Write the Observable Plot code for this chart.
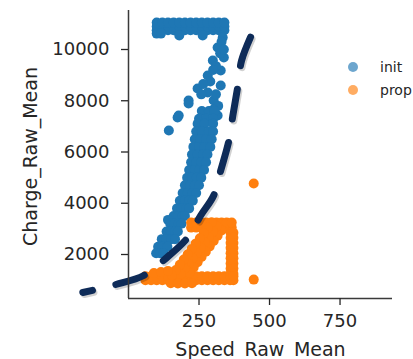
<!DOCTYPE html>
<html><head><meta charset="utf-8">
<script src="https://cdn.jsdelivr.net/npm/d3@7"></script>
<script src="https://cdn.jsdelivr.net/npm/@observablehq/plot@0.6"></script>
<style>
body{margin:0;background:#fff;}
#wrap{position:relative;width:413px;height:359px;overflow:hidden;background:#fff;}
#legend{position:absolute;left:348px;top:55px;font-family:"DejaVu Sans";font-size:14px;color:#262626;}
#legend .row{display:flex;align-items:center;height:23px;}
#legend .sw{width:10px;height:10px;border-radius:50%;margin-right:22px;opacity:0.65;}
</style></head><body><div id="wrap"></div>
<script>
const categories = ["init", "prop"];
const colors = ["#1f77b4", "#ff7f0e"];
const xTicks = [250, 500, 750];
const yTicks = [2000, 4000, 6000, 8000, 10000];
const xLabel = "Speed_Raw_Mean";
const yLabel = "Charge_Raw_Mean";

// init: [Speed_Raw_Mean, Charge_Raw_Mean]
const initPoints = [
  [100,10750],[120,10750],[140,10750],[160,10750],[180,10750],[200,10750],[220,10750],[240,10750],[260,10750],[280,10750],[300,10750],[320,10750],[340,10750],
  [100,10900],[120,10900],[140,10900],[160,10900],[180,10900],[200,10900],[220,10900],[240,10900],[260,10900],[280,10900],[300,10900],[320,10900],[340,10900],
  [100,11050],[120,11050],[140,11050],[160,11050],[180,11050],[200,11050],[220,11050],[240,11050],[260,11050],[280,11050],[300,11050],[320,11050],[340,11050],
  [100,10620],[115,10620],[180,10545],[263,10545],
  [334,10467],[316,10077],[299,9570],[338,9687],[327,9180],[281,8985],[327,8594],[245,8477],[213,8009],[281,8321],[302,8009],[316,7424],
  [174,7346],[143,6838],[178,7424],[213,7892],[330,10300],[325,9850],[338,10000],[310,9350],[300,9200],[290,8750],[265,8650],[258,8250],[310,8250],[318,7800],[300,7650],
  [260,7600],[285,7600],[305,7600],
  [250,7300],[275,7300],[300,7300],
  [245,7100],[270,7100],[300,7100],
  [240,6800],[260,6800],[285,6800],[300,6800],
  [235,6500],[255,6500],[275,6500],[295,6500],
  [230,6200],[250,6200],[270,6200],[290,6200],
  [225,5900],[245,5900],[265,5900],[280,5900],
  [222,5600],[240,5600],[258,5600],[275,5600],
  [215,5300],[235,5300],[252,5300],[268,5300],
  [208,5000],[225,5000],[242,5000],[258,5000],
  [200,4700],[218,4700],[235,4700],[250,4700],
  [192,4400],[210,4400],[226,4400],[240,4400],
  [182,4100],[200,4100],[215,4100],[228,4100],
  [172,3800],[188,3800],[204,3800],[215,3800],
  [160,3500],[176,3500],[192,3500],[200,3500],
  [140,3350],[148,3200],[162,3200],[178,3200],[188,3200],
  [135,2900],[150,2900],[165,2900],[175,2900],
  [118,2600],[135,2600],[152,2600],[165,2600],
  [105,2300],[120,2300],[138,2300],
  [98,2050],[112,2050],[124,2050]
];

// prop: [Speed_Raw_Mean, Charge_Raw_Mean]
const propPoints = [
  [222,3050],[240,3050],[258,3050],[276,3050],[294,3050],[312,3050],[330,3050],[348,3050],[366,3050],
  [222,3250],[240,3250],[258,3250],[276,3250],[294,3250],[312,3250],[330,3250],[348,3250],[366,3250],
  [362,2850],[362,2650],[362,2450],[362,2250],[362,2050],[362,1850],[362,1650],[362,1450],[362,1250],
  [372,2850],[372,2650],[372,2450],[372,2250],[372,2050],[372,1850],[372,1650],[372,1450],[372,1250],
  [60,1000],[80,1000],[100,1000],[120,1000],[140,1000],[160,1000],[180,1000],[200,1000],[220,1000],[240,1000],[260,1000],[280,1000],[300,1000],[320,1000],[340,1000],[360,1000],[372,1000],
  [60,1150],[80,1150],[100,1150],[120,1150],[140,1150],[160,1150],[180,1150],[200,1150],[220,1150],[240,1150],[260,1150],[280,1150],[300,1150],[320,1150],[340,1150],[360,1150],[372,1150],
  [150,880],[175,870],[200,870],[225,880],
  [330,2936],[316,2730],[302,2524],[288,2318],[274,2112],[259,1906],[245,1700],[231,1493],[217,1287],
  [313,3093],[299,2887],[285,2681],[270,2475],[256,2268],[242,2062],[227,1856],[213,1649],[199,1443],[185,1237],
  [295,3249],[281,3043],[267,2837],[253,2631],[238,2424],[224,2218],[210,2012],[196,1805],[182,1599],[168,1393],[154,1187],
  [90,1280],[115,1320],[140,1360],
  [444,4770],[444,1020]
];

// hand-drawn dashed annotation curve, in data units
const curvePoints = [
  [-162,517],[-45,829],[54,1181],[132,1844],[210,2663],[256,3522],[302,4302],
  [327,5278],[356,6448],[370,7424],[388,8594],[401,9570],[440,10662]
];

const table = [
  ...initPoints.map(([s, c]) => ({speed: s, charge: c, kind: categories[0]})),
  ...propPoints.map(([s, c]) => ({speed: s, charge: c, kind: categories[1]}))
];

const chart = Plot.plot({
  width: 413, height: 359,
  marginLeft: 128, marginRight: 21, marginTop: 10, marginBottom: 61,
  x: {domain: [0, 936]},
  y: {domain: [283, 11522]},
  color: {domain: categories, range: colors},
  style: {fontFamily: "DejaVu Sans", color: "#262626", background: "#fff", overflow: "visible"},
  marks: [
    Plot.dot(table, {x: "speed", y: "charge", fill: "kind", r: 5, stroke: null}),
    Plot.line(curvePoints, {x: d => d[0], y: d => d[1], curve: "catmull-rom", stroke: "#000", strokeOpacity: 0.18, strokeWidth: 7, strokeDasharray: "30,24", strokeDashoffset: 20, dx: 1.5, dy: 2}),
    Plot.line(curvePoints, {x: d => d[0], y: d => d[1], curve: "catmull-rom", stroke: "#0e2b58", strokeWidth: 7, strokeDasharray: "30,24", strokeDashoffset: 20}),
    Plot.ruleX([0], {stroke: "#3a3a3a", strokeWidth: 1.5}),
    Plot.ruleY([283], {stroke: "#3a3a3a", strokeWidth: 1.5}),
    Plot.axisX(xTicks, {tickSize: 7, tickPadding: 9, fontSize: 18, label: null, tickFormat: "d", strokeWidth: 1.3}),
    Plot.axisY(yTicks, {tickSize: 7, tickPadding: 12, fontSize: 18, label: null, tickFormat: "d", strokeWidth: 1.3}),
    Plot.text([xLabel], {frameAnchor: "bottom", lineAnchor: "bottom", dy: 57, fontSize: 19, fill: "#262626"}),
    Plot.text([yLabel], {frameAnchor: "left", textAnchor: "middle", lineAnchor: "bottom", rotate: -90, dx: -92, dy: 2, fontSize: 19, fill: "#262626"})
  ]
});

const wrap = document.getElementById("wrap");
wrap.appendChild(chart);
const legend = d3.select(wrap).append("div").attr("id", "legend");
categories.forEach((c, i) => {
  const row = legend.append("div").attr("class", "row");
  row.append("div").attr("class", "sw").style("background", colors[i]);
  row.append("span").text(c);
});
</script></body></html>
